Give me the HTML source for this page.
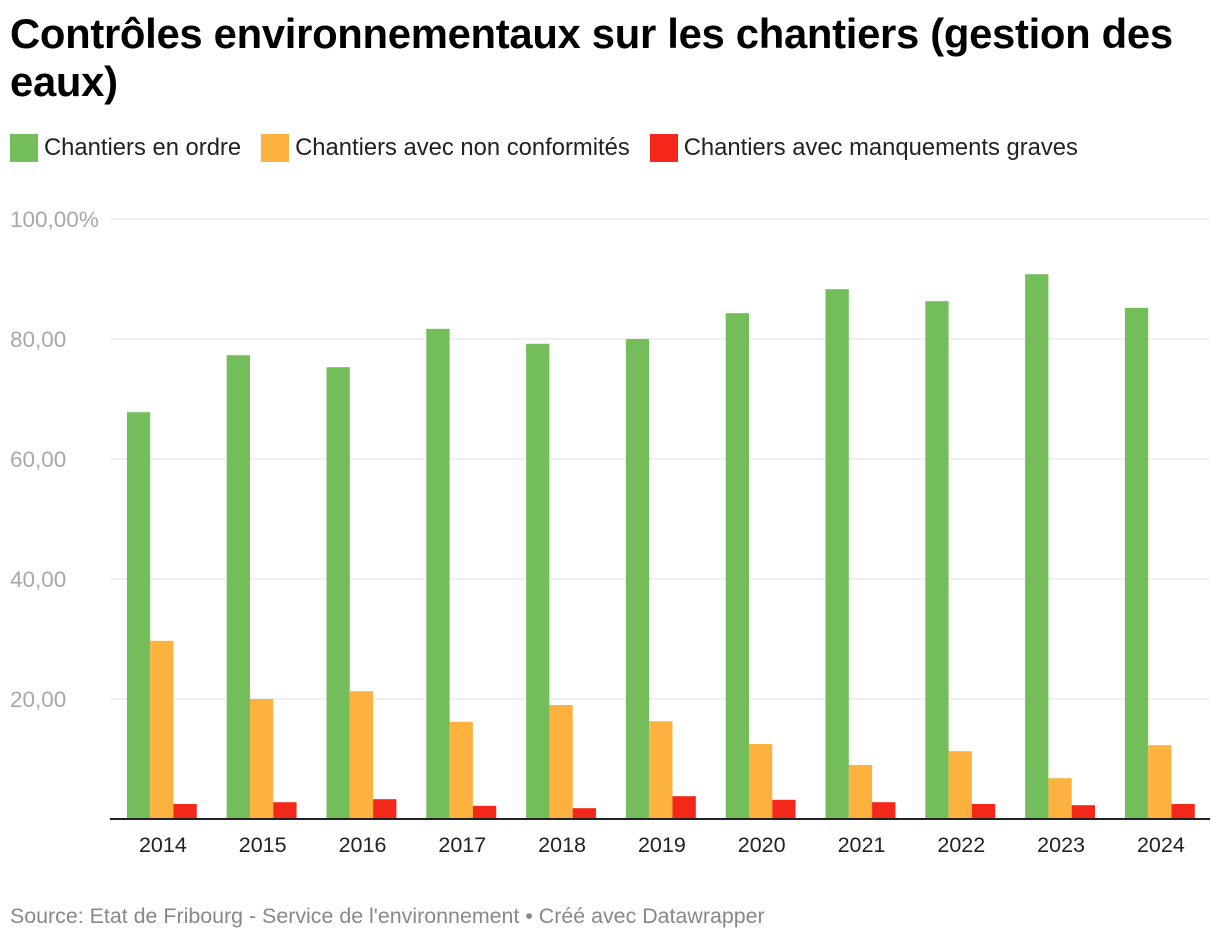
<!DOCTYPE html>
<html><head><meta charset="utf-8"><style>
body{margin:0;background:#fff;width:1220px;height:940px;overflow:hidden;font-family:"Liberation Sans",sans-serif}
h1{position:absolute;left:10px;top:10px;margin:0;font-size:41.8px;line-height:48px;font-weight:bold;color:#000;width:1190px;letter-spacing:-0.3px}
.legend{position:absolute;left:10px;top:134px;display:flex;font-size:23.8px;color:#222}
.li{display:flex;align-items:center;margin-right:20px}
.sw{width:28px;height:28px;margin-right:6px}
.src{position:absolute;left:10px;top:904px;font-size:21.4px;color:#888}
</style></head><body>
<h1>Contrôles environnementaux sur les chantiers (gestion des eaux)</h1>
<div class="legend">
<div class="li"><div class="sw" style="background:#73bd5b"></div>Chantiers en ordre</div>
<div class="li"><div class="sw" style="background:#fdb13f"></div>Chantiers avec non conformités</div>
<div class="li"><div class="sw" style="background:#f4281a"></div>Chantiers avec manquements graves</div>
</div>
<svg id="chart" width="1220" height="940" style="position:absolute;left:0;top:0"></svg>
<div class="src">Source: Etat de Fribourg - Service de l'environnement • Créé avec Datawrapper</div>
<script>
const years=["2014","2015","2016","2017","2018","2019","2020","2021","2022","2023","2024"];
const enOrdre=[67.8,77.3,75.3,81.7,79.2,80.0,84.3,88.3,86.3,90.8,85.2];
const nonConf=[29.7,20.0,21.3,16.2,19.0,16.3,12.5,9.0,11.3,6.8,12.3];
const graves=[2.5,2.8,3.3,2.2,1.8,3.8,3.2,2.8,2.5,2.3,2.5];
const ticks=[0,20,40,60,80,100];
const tickLabels=["","20,00","40,00","60,00","80,00","100,00%"];
const NS="http://www.w3.org/2000/svg",svg=document.getElementById('chart');
const y0=819,y1=219,x0=110,x1=1210;
const y=v=>y0-(v/100)*(y0-y1);
const bandL=112,bandW=99.8;
const xc=i=>bandL+bandW*(i+0.5);
function mk(t,a){const e=document.createElementNS(NS,t);for(const k in a)e.setAttribute(k,a[k]);svg.appendChild(e);return e;}
ticks.forEach((t,i)=>{
 if(t>0){const l=mk('line',{x1:x0,x2:x1,y1:y(t),y2:y(t),stroke:'#e0e0e0','stroke-width':1});
 
 }
 const tx=mk('text',{x:10,y:y(t)+8,'font-size':22.5,fill:'#a8a8a8','font-family':'Liberation Sans'});
 tx.textContent=tickLabels[i];
 
 
});
const series=[[enOrdre,'#73bd5b'],[nonConf,'#fdb13f'],[graves,'#f4281a']];
const bw=23.3;
years.forEach((yr,i)=>{
 series.forEach(([d,c],s)=>{
  const bx=xc(i)-35+s*bw;
  const r=mk('rect',{x:bx,y:y(d[i]),width:bw,height:y0-y(d[i]),fill:c});
  
  
 });
 const t=mk('text',{x:xc(i)+1,y:852,'font-size':21.5,fill:'#222','text-anchor':'middle','font-family':'Liberation Sans'});
 t.textContent=yr;
 
 
});
const ax=mk('line',{x1:x0,x2:x1,y1:y0,y2:y0,stroke:'#222','stroke-width':2});


</script>
</body></html>
